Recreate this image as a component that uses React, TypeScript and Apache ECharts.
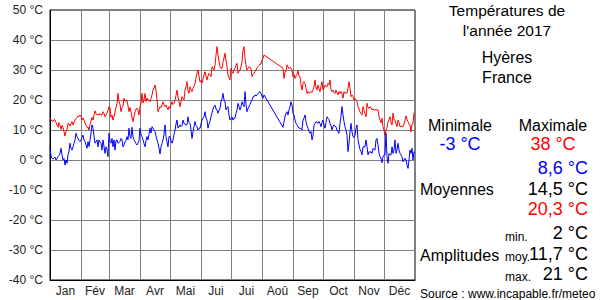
import React, { useEffect, useRef } from "react";
import * as echarts from "echarts";

const monthNames = ["Jan", "Fév", "Mar", "Avr", "Mai", "Jui", "Jui", "Aoû", "Sep", "Oct", "Nov", "Déc"];
const monthStarts = [0, 31, 59, 90, 120, 151, 181, 212, 243, 273, 304, 334, 365];
const yTicks = [-40, -30, -20, -10, 0, 10, 20, 30, 40, 50];

// Daily maximum temperatures (°C), null = missing day
const maxTemps: (number | null)[] = [
  // Jan
  14, 13.5, 13, 12.8, 13.5, 13.3, 12.5, 11.7, 10.9, 12.5, 11.5, 10.2, 11.5, 10.9, 9.5, 8, 9.5, 10.2, 12.2, 12, 11.3, 12, 12.8, 11.7, 12.5, 13.3, 13.8, 14.2, 14.7, 14.5, 15,
  // Feb
  14.5, 13.3, 14, 13.3, 12.5, 11.5, 10.9, 11, 10, 11.7, 13, 14.2, 13.3, 15, 16.4, 15.5, 15, 15.2, 15, 15.5, 15, 15, 16.1, 15.5, 14.4, 15, 15.6, 16.5,
  // Mar
  17.8, 17.5, 14.2, 15, 13.3, 14.5, 16, 17.5, 18.9, 22.2, 19.5, 18.5, 16.1, 17.5, 18, 20.6, 19.5, 19.8, 20, 18, 16.1, 17.5, 16, 14.4, 12.8, 14.5, 16.1, 17, 17.2, 16.5, 15,
  // Apr
  17.8, 19, 22.2, 19, 20, 22.2, 19.5, 20.6, 20, 20, 19.5, 20.5, 21.7, 23.3, 24, 25, 23.3, 20, 16.1, 17, 17.8, 17.5, 18.3, 19.4, 18.5, 17.8, 18.3, 17.5, 16.7, 17.8,
  // May
  17.2, 18.5, 19.4, 18.5, 18.9, 20, 21.5, 23.3, 21, 19.4, 17.8, 19.5, 21.1, 20.5, 20, 23.3, 24.5, 26.1, 23, 22.2, 24.4, 23.5, 22.8, 23.9, 24.5, 25.6, 27.5, 28.9, 30, 28, 26,
  // Jun
  26.5, 25.6, 27, 28.3, 29.4, 28, 26.7, 28, 28.9, 28.5, 27.8, 31.1, 30.5, 30, 31.7, 35, 37.8, 35, 33, 31.1, 30.5, 30.6, 32.8, 34, 35.6, 33, 31.1, 28.3, 27.5, 26.7,
  // Jul
  30.6, 29.5, 28.9, 30, 30.6, 31.5, 32.2, 28.9, 29.5, 30, 31, 32.8, 36.7, 37.8, 34, 31.7, 30, 30.5, 31.1, 30.8, 30.6, 27.8, 28.5, 28.9, 29.5, 30, 30.8, 31.1, 31.5, 32, 32,
  // Aug
  33.3, 33.8, 35, null, null, null, null, null, null, null, null, null, null, null, null, null, null, null, null, null, null, 30.6, 27.2, 29.4, 29.5, 31.7, 31, 30.5, 30.9, 30.6, 30,
  // Sep
  27.8, 28.5, 27.2, 28, 28.5, 29.8, 28, 27.8, 25, 23.3, 25.5, 26.1, 25.6, 24, 22.2, 22.8, 22.2, 22.5, 22.8, 22.5, 23.3, 24.5, 26.7, 24, 23.3, 25, 23.9, 22.8, 24.5, 26.1,
  // Oct
  23.3, 24, 25, 24.5, 24.4, 25.5, 25, 26.7, 23.5, 22.8, 23.3, 22.5, 22.2, 23.3, 22.5, 21.7, 22.8, 22.2, 22.8, 22.2, 20.6, 22.8, 22.2, 22.5, 22.2, 23.9, 26.1, 23.9, 21.1, 21.7, 21.1,
  // Nov
  20, 20.5, 20, 19.4, 17.8, 17, 16.1, 15.5, 15, 17.8, 16.5, 15.5, 14.4, 18.9, 17.5, 17.2, 17.8, 17.5, 16.7, 17, 16.7, 16.7, 16.7, 16.7, 16.7, 14.4, 13.5, 12.4, 13.9, 11.1,
  // Dec
  10, 8.3, 10, 10.6, 12.8, 13.5, 14.4, 12.5, 11.7, 15.6, 13.5, 13.3, 12, 11.1, 13.3, 12.5, 11.1, 11.1, 11.4, 11.1, 12, 13.3, 14.7, 13.5, 12.8, 12, 11.7, 9.4, 12, 12.2, 15.8,
];

// Daily minimum temperatures (°C), null = missing day
const minTemps: (number | null)[] = [
  // Jan
  3.9, 1.5, 0.6, 0.3, 0.6, 1, 0, 0.5, 1.1, 1.5, 2.2, 3.9, 1.7, 0, 0.5, -1.7, 0, -1.1, 1.7, 3, 5.6, 3.9, 3.3, 4.4, 5.5, 6.7, 8.9, 7.8, 7.2, 6.5, 6.1,
  // Feb
  6.7, 7.5, 8.3, 6.7, 6.1, 5, 3.9, 6.1, 4.5, 6.7, 9, 11.7, 10.6, 8, 5.6, 6.1, 6.7, 4.4, 6.7, 6, 5.6, 3.3, 6.7, 4.5, 2.2, 4.4, 3.5, 1.1,
  // Mar
  8.9, 6.1, 5.6, 7.2, 4.4, 6.7, 3.3, 6.5, 6.7, 5.6, 5.8, 6.2, 7.2, 6.7, 4.4, 5, 6, 6.5, 7.8, 6.7, 10.6, 7.8, 7.2, 10.9, 7.8, 6.7, 6.1, 5.5, 5, 5.6, 6.5,
  // Apr
  10.6, 8.5, 7.8, 6.7, 5.5, 4.4, 6.5, 7.8, 6.7, 8.5, 10.6, 9, 11.1, 10.6, 10, 9.5, 8, 6.7, 5.6, 4, 2, 4.4, 5.5, 6.7, 8.5, 11.7, 7.8, 6, 4.4, 7.8,
  // May
  7.8, 6.5, 5.6, 6.7, 8.5, 10, 12, 13.3, 10.6, 11, 11.7, 11.1, 11.5, 13.3, 12.2, 12, 11.7, 11.7, 14.4, 12.5, 12.2, 10, 7.2, 9.5, 11.1, 12.8, 11.5, 11.1, 10, 10.5, 10.6,
  // Jun
  12, 13.3, 14, 14.4, 16.1, 14, 13.3, 10.6, 12, 12.8, 14.5, 15.6, 17, 17.8, 18.3, 17, 16.7, 15.6, 16.5, 17.2, 19.4, 20.5, 22.2, 20, 19.4, 16.7, 17.5, 17.8, 15, 13.3,
  // Jul
  13.9, 14.4, 13.3, 14, 13.9, 15.5, 16.7, 18.9, 17.8, 16.7, 17.8, 19.4, 18.5, 17.8, 22.8, 18.5, 16.1, 17.2, 17.8, 18.5, 19.4, 20, 21.1, 21.1, 21.7, 21.4, 21.7, 22.2, 22.5, 22.8, 22.2,
  // Aug
  21.1, 20.6, 21.7, null, null, null, null, null, null, null, null, null, null, null, null, null, null, null, null, null, null, 10.9, 12.8, 14.5, 15.6, 16.1, 15, 16.7, 17.8, 19.4, 18.3,
  // Sep
  15.6, 15, 13.3, 12.2, 11.7, 11.1, 10.6, 10.6, 10.5, 10, 13.3, 14, 15, 12.8, 11.5, 10.6, 9.5, 8.9, 9.5, 6.7, 8, 11.5, 12.2, 12.8, 12.5, 12.2, 12.8, 12.2, 11.1, 12.5,
  // Oct
  13.3, 11.7, 10.6, 12.5, 14.4, 13.9, 13.5, 12.2, 11.5, 10, 11.1, 11.7, 11.4, 11, 10, 9.5, 8.9, 12.2, 14.5, 17.8, 15, 12.8, 11.1, 10, 8.3, 2.8, 5.6, 9.4, 12.2, 9.4, 7.8,
  // Nov
  7.5, 8.3, 10.6, 11.7, 6.7, 5, 3.5, 2.8, 1.7, 4.4, 4.4, 4.4, 6.7, 4.5, 1.7, 2.8, 2.5, 2.8, 2.2, 3.9, 3.5, 3.3, 6.7, 7.2, 5, 2.2, 1.1, 0.5, -0.9, 1.1,
  // Dec
  1.7, 1.7, 8.9, 1.1, -1.1, 2.2, 1.7, 1.7, 4.4, 2.2, 3.3, 6.7, 2.2, 3.3, 5.6, 3.3, 2.2, 1.7, 1.1, -0.6, 0, 0.6, 0, -1.7, -2.8, 0, 3.3, 2.2, 3.9, 0, 2.8,
];

const titleLines = ["Températures de", "l'année 2017", "Hyères", "France"];
const extremeLabels = ["Minimale", "Maximale"];
const extremeValues = ["-3 °C", "38 °C"];
const meanValues = ["8,6 °C", "14,5 °C", "20,3 °C"];
const amplitudeKeys = ["min.", "moy.", "max."];
const amplitudeValues = ["2 °C", "11,7 °C", "21 °C"];
const sourceText = "Source : www.incapable.fr/meteo";

const FONT = "'Liberation Sans', Arial, sans-serif";

export default function App() {
  const ref = useRef<HTMLDivElement>(null);

  useEffect(() => {
    document.body.style.margin = "0";
    if (!ref.current) return;
    const chart = echarts.init(ref.current, undefined, { renderer: "svg" });

    const toPairs = (arr: (number | null)[]) =>
      arr.map((v, i) => [i, v]).filter((p) => p[1] !== null);

    const midMonths = monthStarts.slice(0, 12).map((s, i) => (s + monthStarts[i + 1]) / 2);

    const txt = (text: string, x: number, y: number, opts: any = {}) => ({
      type: "text",
      x,
      y,
      style: {
        text,
        fontFamily: FONT,
        fontSize: opts.size ?? 16,
        fill: opts.color ?? "#000",
        align: opts.align ?? "center",
        verticalAlign: "middle",
      },
    });

    const graphics: any[] = [
      txt(titleLines[0], 507, 10, { size: 15.5 }),
      txt(titleLines[1], 507, 30, { size: 15.5 }),
      txt(titleLines[2], 507, 57),
      txt(titleLines[3], 507, 77),
      txt(extremeLabels[0], 460, 125),
      txt(extremeLabels[1], 553, 125),
      txt(extremeValues[0], 460, 144, { size: 18, color: "#0000ff" }),
      txt(extremeValues[1], 553, 144, { size: 18, color: "#ff0000" }),
      txt(meanValues[0], 588, 168, { size: 18, color: "#0000ff", align: "right" }),
      txt("Moyennes", 420, 189, { align: "left" }),
      txt(meanValues[1], 588, 189, { size: 18, align: "right" }),
      txt(meanValues[2], 588, 209, { size: 18, color: "#ff0000", align: "right" }),
      txt(amplitudeKeys[0], 505, 237, { size: 12, align: "left" }),
      txt(amplitudeValues[0], 588, 233, { size: 18, align: "right" }),
      txt("Amplitudes", 420, 255, { align: "left" }),
      txt(amplitudeKeys[1], 505, 257, { size: 12, align: "left" }),
      txt(amplitudeValues[1], 588, 254, { size: 18, align: "right" }),
      txt(amplitudeKeys[2], 505, 277, { size: 12, align: "left" }),
      txt(amplitudeValues[2], 588, 274, { size: 18, align: "right" }),
      txt(sourceText, 420, 294, { size: 12, align: "left" }),
    ];

    chart.setOption({
      animation: false,
      backgroundColor: "#ffffff",
      grid: {
        left: 50,
        right: 185,
        top: 10,
        bottom: 20,
        show: true,
        borderColor: "#000",
        borderWidth: 1,
        backgroundColor: "transparent",
      },
      xAxis: {
        type: "value",
        min: 0,
        max: 365,
        axisLine: { show: true, onZero: false, lineStyle: { color: "#000", width: 1 } },
        axisTick: { show: false, customValues: monthStarts },
        splitLine: { show: true, lineStyle: { color: "#808080", width: 1 } },
        axisLabel: {
          customValues: midMonths,
          formatter: (v: number) => {
            const idx = midMonths.findIndex((m) => Math.abs(m - v) < 0.01);
            return idx >= 0 ? monthNames[idx] : "";
          },
          fontFamily: FONT,
          fontSize: 12,
          color: "#222",
          margin: 5,
          hideOverlap: false,
        },
      },
      yAxis: {
        type: "value",
        min: yTicks[0],
        max: yTicks[yTicks.length - 1],
        interval: 10,
        axisLine: { show: true, lineStyle: { color: "#000", width: 1 } },
        axisTick: { show: false },
        splitLine: { show: true, lineStyle: { color: "#808080", width: 1 } },
        axisLabel: {
          formatter: (v: number) => `${v} °C`,
          fontFamily: FONT,
          fontSize: 12,
          color: "#222",
          margin: 7,
        },
      },
      series: [
        {
          type: "line",
          data: toPairs(maxTemps),
          showSymbol: false,
          symbol: "none",
          lineStyle: { color: "#ff0000", width: 1 },
          z: 3,
        },
        {
          type: "line",
          data: toPairs(minTemps),
          showSymbol: false,
          symbol: "none",
          lineStyle: { color: "#0000ff", width: 1 },
          z: 3,
        },
      ],
      graphic: graphics,
    });

    return () => chart.dispose();
  }, []);

  return <div ref={ref} style={{ width: 600, height: 300 }} />;
}
